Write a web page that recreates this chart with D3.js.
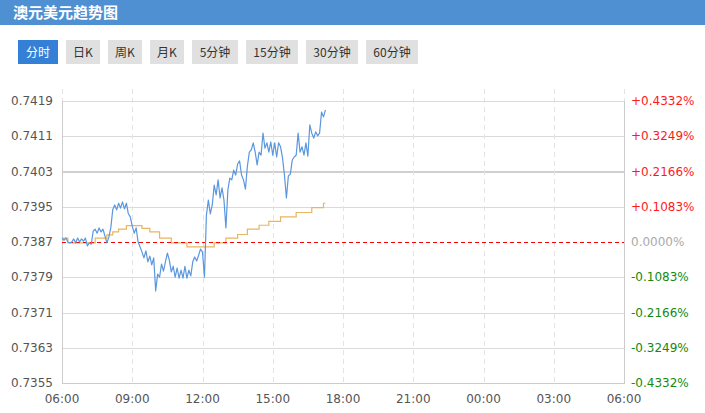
<!DOCTYPE html>
<html>
<head>
<meta charset="utf-8">
<script src="https://cdnjs.cloudflare.com/ajax/libs/d3/7.8.5/d3.min.js"></script>
<style>
  html, body { margin: 0; padding: 0; background: #fff; }
  svg { display: block; }
</style>
</head>
<body>
<svg id="chart" width="705" height="413"></svg>
<script>
// ---------------- DATA ----------------
const title = "澳元美元趋势图";
const tabs = ["分时", "日K", "周K", "月K", "5分钟", "15分钟", "30分钟", "60分钟"];
const activeTab = "分时";

const prevClose = 0.7387;
const yTicks = [0.7419, 0.7411, 0.7403, 0.7395, 0.7387, 0.7379, 0.7371, 0.7363, 0.7355];
const pctLabels = ["+0.4332%", "+0.3249%", "+0.2166%", "+0.1083%", "0.0000%", "-0.1083%", "-0.2166%", "-0.3249%", "-0.4332%"];
const xTickLabels = ["06:00", "09:00", "12:00", "15:00", "18:00", "21:00", "00:00", "03:00", "06:00"];

// price samples, one every 5 minutes starting at 06:00
const priceStart = "06:00";
const priceStepMin = 5;
const prices = [
  0.73879, 0.73874, 0.73879, 0.73870, 0.73868, 0.73870, 0.73877, 0.73868, 0.73879, 0.73870,
  0.73877, 0.73872, 0.73879, 0.73861, 0.73868, 0.73865, 0.73895, 0.73899, 0.73890, 0.73902,
  0.73893, 0.73899, 0.73884, 0.73868, 0.73881, 0.73902, 0.73943, 0.73954, 0.73943, 0.73958,
  0.73947, 0.73961, 0.73945, 0.73958, 0.73934, 0.73927, 0.73906, 0.73890, 0.73902, 0.73870,
  0.73859, 0.73847, 0.73834, 0.73850, 0.73825, 0.73838, 0.73818, 0.73834, 0.73759, 0.73797,
  0.73790, 0.73820, 0.73804, 0.73825, 0.73845, 0.73829, 0.73802, 0.73815, 0.73790, 0.73811,
  0.73788, 0.73806, 0.73788, 0.73815, 0.73788, 0.73806, 0.73793, 0.73825, 0.73836, 0.73827,
  0.73840, 0.73854, 0.73847, 0.73790, 0.73931, 0.73965, 0.73934, 0.73954, 0.73999, 0.73977,
  0.74011, 0.73970, 0.73993, 0.73965, 0.73902, 0.73988, 0.74015, 0.74011, 0.74033, 0.74022,
  0.74047, 0.74054, 0.74022, 0.74011, 0.73990, 0.74042, 0.74074, 0.74079, 0.74095, 0.74074,
  0.74045, 0.74074, 0.74067, 0.74117, 0.74083, 0.74095, 0.74074, 0.74097, 0.74067, 0.74095,
  0.74063, 0.74095, 0.74086, 0.74061, 0.74022, 0.73970, 0.74020, 0.74024, 0.74056, 0.74063,
  0.74067, 0.74117, 0.74074, 0.74086, 0.74067, 0.74095, 0.74065, 0.74136, 0.74117, 0.74106,
  0.74120, 0.74111, 0.74117, 0.74165, 0.74154, 0.74170
];

// average price (step line)
const avgTimes = ["06:00", "06:15", "07:25", "07:55", "08:10", "08:25", "08:45", "09:25", "09:45", "10:10",
  "10:40", "11:20", "12:30", "13:00", "13:30", "13:55", "14:25", "14:50", "15:20", "16:00", "16:40", "17:10", "17:15"];
const avgValues = [0.73879, 0.73868, 0.73879, 0.73886, 0.73893, 0.73899, 0.73907, 0.73901, 0.73893, 0.73879,
  0.73868, 0.73859, 0.73868, 0.73879, 0.73887, 0.73899, 0.73908, 0.73917, 0.73927, 0.73937, 0.73948, 0.73958, 0.73958];

// ---------------- HELPERS ----------------
const baseDay = new Date(2020, 0, 1);
function toDate(hhmm, nextDay) {
  const [h, m] = hhmm.split(":").map(Number);
  const d = new Date(baseDay.getTime());
  d.setHours(h, m, 0, 0);
  if (nextDay) d.setDate(d.getDate() + 1);
  return d;
}
// tick dates: roll over to next day when clock goes backwards/repeats
const xTickDates = [];
{
  let roll = false, prev = null;
  xTickLabels.forEach(l => {
    let d = toDate(l, roll);
    if (prev && d <= prev) { roll = true; d = toDate(l, true); }
    xTickDates.push(d); prev = d;
  });
}
const startDate = toDate(priceStart);
const priceData = prices.map((v, i) => ({ t: d3.timeMinute.offset(startDate, i * priceStepMin), v }));
const avgData = avgTimes.map((t, i) => ({ t: toDate(t), v: avgValues[i] }));

// ---------------- LAYOUT ----------------
const svg = d3.select("#chart");
const W = 705;
const plot = { left: 62, right: 624, top: 101, bottom: 383 };

const x = d3.scaleTime().domain([xTickDates[0], xTickDates[xTickDates.length - 1]]).range([plot.left, plot.right]);
const y = d3.scaleLinear().domain([yTicks[yTicks.length - 1], yTicks[0]]).range([plot.bottom, plot.top]);
const crisp = v => Math.round(v) + 0.5;

// header
svg.append("rect").attr("x", 0).attr("y", 0).attr("width", W).attr("height", 25).attr("fill", "#4f90d2");
svg.append("text").attr("x", 13).attr("y", 18)
  .attr("fill", "#fff").attr("font-size", 15).attr("font-weight", "bold")
  .attr("font-family", "'Noto Sans CJK SC', sans-serif")
  .text(title);

// tabs
const tabWidths = { "分时": 40, "日K": 34, "周K": 34, "月K": 34, "5分钟": 46, "15分钟": 52, "30分钟": 52, "60分钟": 52 };
let tx = 18;
tabs.forEach(t => {
  const w = tabWidths[t];
  const active = t === activeTab;
  const g = svg.append("g").attr("transform", `translate(${tx},40)`);
  g.append("rect").attr("width", w).attr("height", 24).attr("fill", active ? "#3480d6" : "#e0e0e0");
  g.append("text").attr("x", w / 2).attr("y", 16.5).attr("text-anchor", "middle")
    .attr("fill", active ? "#fff" : "#333").attr("font-size", 12)
    .attr("font-family", "'Noto Sans CJK SC', 'DejaVu Sans', sans-serif")
    .text(t);
  tx += w + 8;
});

// horizontal grid
const grid = svg.append("g");
yTicks.forEach((v, i) => {
  const yy = crisp(y(v));
  if (v === prevClose) return;
  const thick = v === 0.7403;
  grid.append("line").attr("x1", plot.left).attr("x2", plot.right)
    .attr("y1", thick ? Math.round(y(v)) : yy).attr("y2", thick ? Math.round(y(v)) : yy)
    .attr("stroke", thick ? "#cfcfcf" : "#dadada").attr("stroke-width", thick ? 2 : 1);
});

// vertical dashed grid
xTickDates.forEach((d, i) => {
  const xx = crisp(x(d));
  if (i === xTickDates.length - 1) xx;
  grid.append("line").attr("x1", xx).attr("x2", xx).attr("y1", 89).attr("y2", plot.bottom)
    .attr("stroke", "#e3e3e3").attr("stroke-dasharray", "5,4");
});

// axes frame
svg.append("line").attr("x1", crisp(plot.left)).attr("x2", crisp(plot.left))
  .attr("y1", plot.top).attr("y2", plot.bottom + 0.5).attr("stroke", "#cccccc");
svg.append("line").attr("x1", crisp(plot.right)).attr("x2", crisp(plot.right))
  .attr("y1", plot.top).attr("y2", plot.bottom + 0.5).attr("stroke", "#cccccc");
svg.append("line").attr("x1", plot.left).attr("x2", plot.right + 1)
  .attr("y1", crisp(plot.bottom)).attr("y2", crisp(plot.bottom)).attr("stroke", "#cccccc");

// left axis labels
const lab = svg.append("g").attr("font-family", "'DejaVu Sans', sans-serif").attr("font-size", 12);
yTicks.forEach(v => {
  lab.append("text").attr("x", 53).attr("y", y(v)).attr("dy", "0.35em")
    .attr("text-anchor", "end").attr("fill", "#555").text(d3.format(".4f")(v));
});
// right axis labels
yTicks.forEach((v, i) => {
  const c = v > prevClose ? "#ff1a1a" : (v < prevClose ? "#138a13" : "#aaaaaa");
  lab.append("text").attr("x", 631).attr("y", y(v)).attr("dy", "0.35em")
    .attr("fill", c).text(pctLabels[i]);
});
// bottom labels
xTickDates.forEach((d, i) => {
  lab.append("text").attr("x", x(d)).attr("y", 403).attr("text-anchor", "middle")
    .attr("fill", "#555").text(xTickLabels[i]);
});

// average step line
svg.append("path").datum(avgData)
  .attr("fill", "none").attr("stroke", "#e8b560").attr("stroke-width", 1.2)
  .attr("d", d3.line().x(d => x(d.t)).y(d => y(d.v)).curve(d3.curveStepAfter));

// previous close dashed line
svg.append("line").attr("x1", plot.left).attr("x2", plot.right)
  .attr("y1", crisp(y(prevClose))).attr("y2", crisp(y(prevClose)))
  .attr("stroke", "#ff0000").attr("stroke-dasharray", "4,3");

// price line
svg.append("path").datum(priceData)
  .attr("fill", "none").attr("stroke", "#5b97de").attr("stroke-width", 1.2)
  .attr("stroke-linejoin", "round")
  .attr("d", d3.line().x(d => x(d.t)).y(d => y(d.v)));
</script>
</body>
</html>
